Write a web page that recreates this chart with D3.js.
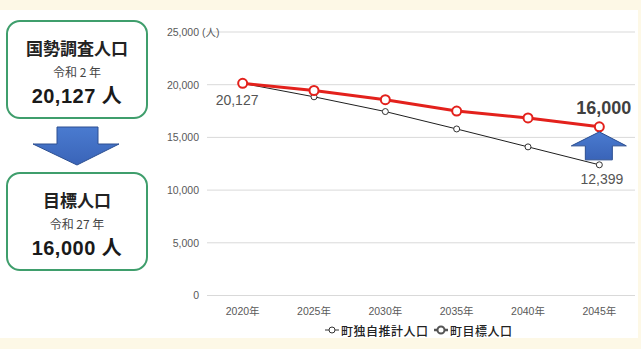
<!DOCTYPE html>
<html>
<head>
<meta charset="utf-8">
<script src="https://cdn.jsdelivr.net/npm/d3@7"></script>
<style>
  html, body { margin: 0; padding: 0; background: #fdf8e6; }
  svg { display: block; }
</style>
</head>
<body>
<svg id="chart" width="641" height="349"></svg>
<script>
// Population data (persons)
const years = ["2020年", "2025年", "2030年", "2035年", "2040年", "2045年"];
const estimated = [20127, 18850, 17450, 15800, 14100, 12399];   // 町独自推計人口
const target = [20127, 19450, 18580, 17500, 16850, 16000];      // 町目標人口
const yTicks = [0, 5000, 10000, 15000, 20000, 25000];
const legendLabels = ["町独自推計人口", "町目標人口"];

const JP = "'Noto Sans CJK JP', 'Noto Sans', sans-serif";
const NUM = "'Liberation Sans', Arial, 'Noto Sans CJK JP', sans-serif";

const svg = d3.select("#chart");

// page background: cream frame with white panel
svg.append("rect").attr("x", 0).attr("y", 0).attr("width", 641).attr("height", 349).attr("fill", "#fdf8e6");
svg.append("rect").attr("x", 0).attr("y", 10).attr("width", 638).attr("height", 328).attr("fill", "#ffffff");

// ---------- left summary panels ----------
function infoBox(y, title, sub, value) {
  const g = svg.append("g");
  g.append("rect").attr("x", 7).attr("y", y).attr("width", 140).attr("height", 97)
    .attr("rx", 13).attr("fill", "#fff").attr("stroke", "#3f9e6c").attr("stroke-width", 2);
  g.append("text").attr("x", 77).attr("y", y + 26).attr("text-anchor", "middle")
    .attr("dominant-baseline", "central").attr("font-family", JP).attr("font-weight", 700)
    .attr("font-size", 17).attr("fill", "#222").text(title);
  g.append("text").attr("x", 77).attr("y", y + 50).attr("text-anchor", "middle")
    .attr("dominant-baseline", "central").attr("font-family", JP)
    .attr("font-size", 12).attr("fill", "#444").text(sub);
  g.append("text").attr("x", 77).attr("y", y + 75).attr("text-anchor", "middle")
    .attr("dominant-baseline", "central").attr("font-family", NUM).attr("font-weight", 700)
    .attr("font-size", 20).attr("letter-spacing", 0.5).attr("fill", "#1a1a1a").text(value);
}
infoBox(21, "国勢調査人口", "令和 2 年", "20,127 人");
infoBox(173, "目標人口", "令和 27 年", "16,000 人");

// blue arrows
const arrowGrad = svg.append("defs").append("linearGradient").attr("id", "ag")
  .attr("x1", 0).attr("y1", 0).attr("x2", 0).attr("y2", 1);
arrowGrad.append("stop").attr("offset", "0%").attr("stop-color", "#4a7bd0");
arrowGrad.append("stop").attr("offset", "100%").attr("stop-color", "#3a64b8");

svg.append("path")
  .attr("d", "M57,127 L98,127 L98,144 L119,144 L77,165 L33,144 L57,144 Z")
  .attr("fill", "url(#ag)").attr("stroke", "#2c4f91").attr("stroke-width", 1);

// ---------- line chart ----------
const x = d3.scaleBand().domain(years).range([207, 635]);
const y = d3.scaleLinear().domain([0, 25000]).range([295.5, 32]);
const cx = d => x(d) + x.bandwidth() / 2;

// gridlines
svg.append("g").selectAll("line").data(yTicks).join("line")
  .attr("x1", 207).attr("x2", 635)
  .attr("y1", d => y(d)).attr("y2", d => y(d))
  .attr("stroke", "#d9d9d9").attr("stroke-width", 1);

// y axis labels
const yAxis = svg.append("g").attr("transform", "translate(199,0)")
  .call(d3.axisLeft(y).tickValues(yTicks).tickSize(0).tickPadding(0)
    .tickFormat(d3.format(",")));
yAxis.select(".domain").remove();
yAxis.selectAll("text").attr("font-family", NUM).attr("font-size", 10.5).attr("fill", "#595959");
svg.append("text").attr("x", 202).attr("y", y(25000)).attr("dominant-baseline", "central")
  .attr("font-family", NUM).attr("font-size", 10.5).attr("fill", "#595959").text("(人)");

// x axis labels
const xAxis = svg.append("g").attr("transform", "translate(0,305)")
  .call(d3.axisBottom(x).tickSize(0).tickPadding(3));
xAxis.select(".domain").remove();
xAxis.selectAll("text").attr("font-family", NUM).attr("font-size", 10.5).attr("fill", "#595959");

const line = d3.line().x((d, i) => cx(years[i])).y(d => y(d));

// estimated series (thin black)
svg.append("path").datum(estimated).attr("d", line)
  .attr("fill", "none").attr("stroke", "#1f1f1f").attr("stroke-width", 1);
svg.append("g").selectAll("circle").data(estimated).join("circle")
  .attr("cx", (d, i) => cx(years[i])).attr("cy", d => y(d)).attr("r", 3)
  .attr("fill", "#fff").attr("stroke", "#333").attr("stroke-width", 1);

// target series (thick red)
svg.append("path").datum(target).attr("d", line)
  .attr("fill", "none").attr("stroke", "#e3211c").attr("stroke-width", 3);
svg.append("g").selectAll("circle").data(target).join("circle")
  .attr("cx", (d, i) => cx(years[i])).attr("cy", d => y(d)).attr("r", 4.5)
  .attr("fill", "#fff").attr("stroke", "#e3211c").attr("stroke-width", 2);

// value labels
svg.append("text").attr("x", cx(years[0]) - 27).attr("y", y(estimated[0]) + 17)
  .attr("dominant-baseline", "central").attr("font-family", NUM).attr("font-size", 14)
  .attr("fill", "#555").text(d3.format(",")(estimated[0]));
svg.append("text").attr("x", cx(years[5]) + 24).attr("y", y(estimated[5]) + 14)
  .attr("text-anchor", "end").attr("dominant-baseline", "central").attr("font-family", NUM)
  .attr("font-size", 14).attr("fill", "#555").text(d3.format(",")(estimated[5]));
svg.append("text").attr("x", cx(years[5]) + 32).attr("y", y(target[5]) - 19)
  .attr("text-anchor", "end").attr("dominant-baseline", "central").attr("font-family", NUM)
  .attr("font-weight", 700).attr("font-size", 18).attr("fill", "#404040")
  .text(d3.format(",")(target[5]));

// up arrow under the target end point
const ax = cx(years[5]);
svg.append("path")
  .attr("d", `M${ax},${y(target[5]) + 5} L${ax + 27},${y(target[5]) + 19} L${ax + 13},${y(target[5]) + 19}
              L${ax + 13},${y(target[5]) + 33} L${ax - 14},${y(target[5]) + 33} L${ax - 14},${y(target[5]) + 19}
              L${ax - 28},${y(target[5]) + 19} Z`)
  .attr("fill", "url(#ag)").attr("stroke", "#2c4f91").attr("stroke-width", 1);

// legend
const lg = svg.append("g").attr("transform", "translate(0,330)");
function legendItem(x0, label, stroke, sw, r, csw) {
  lg.append("line").attr("x1", x0).attr("x2", x0 + 14).attr("y1", 0).attr("y2", 0)
    .attr("stroke", stroke).attr("stroke-width", sw);
  lg.append("circle").attr("cx", x0 + 7).attr("cy", 0).attr("r", r)
    .attr("fill", "#fff").attr("stroke", stroke).attr("stroke-width", csw);
  lg.append("text").attr("x", x0 + 16).attr("y", 0).attr("dominant-baseline", "central")
    .attr("font-family", JP).attr("font-size", 12).attr("font-weight", 500)
    .attr("letter-spacing", 0.5).attr("fill", "#222").text(label);
}
legendItem(325, legendLabels[0], "#333", 1, 3, 1);
legendItem(434, legendLabels[1], "#555", 2.5, 3.5, 2);
</script>
</body>
</html>
